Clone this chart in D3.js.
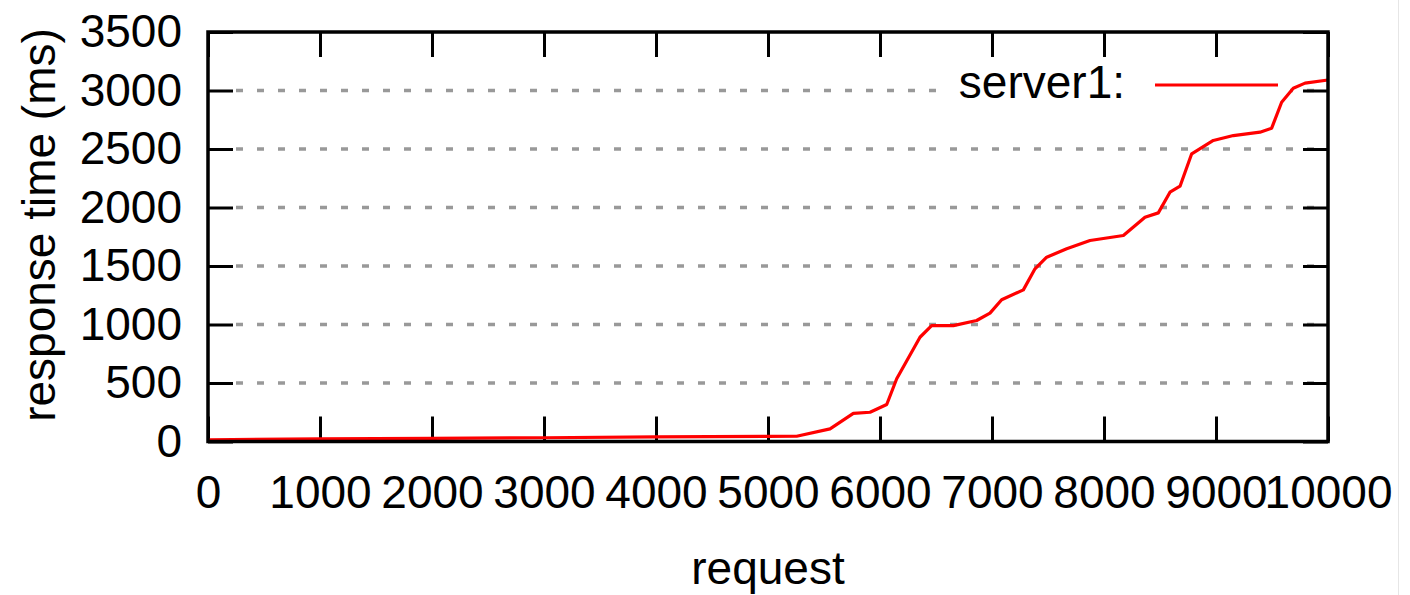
<!DOCTYPE html>
<html>
<head>
<meta charset="utf-8">
<script src="https://cdn.jsdelivr.net/npm/d3@7"></script>
<style>
  body { margin: 0; background: #fff; }
  svg text { font-family: "Liberation Sans", Arial, sans-serif; fill: #000; }
</style>
</head>
<body>
<div id="chart"></div>
<script>
const width = 1410;
const height = 595;
const margin = { top: 32, right: 82, bottom: 154, left: 208 };

// data
const requests = [0, 1000, 2000, 3000, 4000, 5000, 5256, 5554, 5762, 5911, 6060, 6149, 6357, 6461,
  6655, 6863, 6982, 7086, 7280, 7384, 7488, 7667, 7875, 8173, 8366, 8485, 8589, 8679, 8783,
  8976, 9155, 9393, 9497, 9586, 9690, 9795, 10000];
const responseTimes = [15, 22, 27, 32, 40, 44, 45, 108, 240, 250, 316, 536, 891, 990,
  990, 1034, 1097, 1211, 1296, 1476, 1575, 1647, 1718, 1761, 1917, 1954, 2131, 2182, 2459,
  2573, 2615, 2644, 2678, 2900, 3020, 3063, 3090];
const xTicks = [0, 1000, 2000, 3000, 4000, 5000, 6000, 7000, 8000, 9000, 10000];
const yTicks = [0, 500, 1000, 1500, 2000, 2500, 3000, 3500];
const seriesName = "server1:";

const data = requests.map((r, i) => ({ req: r, ms: responseTimes[i] }));

const svg = d3.select('#chart')
  .append('svg')
  .attr('width', width)
  .attr('height', height);

// faint screenshot edge on the right
svg.append("line")
  .attr("x1", 1398.5).attr("x2", 1398.5)
  .attr("y1", 0).attr("y2", height)
  .style("stroke", "#e6e6e6")
  .style("stroke-width", 1);

const x = d3.scaleLinear()
  .domain([0, 10000])
  .range([margin.left, width - margin.right]);

const y = d3.scaleLinear()
  .domain([0, 3500])
  .range([height - margin.bottom + 0.5, margin.top]);

const fontSize = 46;
const tickLen = 25;
const plain = d3.format("d");

// horizontal dashed grid
svg.append("g")
  .selectAll("line")
  .data(yTicks.filter(t => t > 0 && t < 3500))
  .join("line")
  .attr("x1", x(0) + 28)
  .attr("x2", x(10000))
  .attr("y1", d => y(d))
  .attr("y2", d => y(d))
  .style("stroke", "#999")
  .style("stroke-width", 3.5)
  .style("stroke-dasharray", "7,14");

// axes with inward ticks
const xAxisBottom = svg.append("g")
  .attr("transform", `translate(0, ${y(0)})`)
  .call(d3.axisBottom(x).tickValues(xTicks).tickFormat(plain)
    .tickSize(-tickLen).tickSizeOuter(0).tickPadding(34));

const xAxisTop = svg.append("g")
  .attr("transform", `translate(0, ${y(3500)})`)
  .call(d3.axisTop(x).tickValues(xTicks).tickSize(-tickLen).tickSizeOuter(0).tickFormat(""));

const yAxisLeft = svg.append("g")
  .attr("transform", `translate(${x(0)}, 0)`)
  .call(d3.axisLeft(y).tickValues(yTicks).tickFormat(plain)
    .tickSize(-tickLen).tickSizeOuter(0).tickPadding(26));

const yAxisRight = svg.append("g")
  .attr("transform", `translate(${x(10000)}, 0)`)
  .call(d3.axisRight(y).tickValues(yTicks).tickSize(-tickLen).tickSizeOuter(0).tickFormat(""));

[xAxisBottom, xAxisTop, yAxisLeft, yAxisRight].forEach(g => {
  g.select(".domain").remove();
  g.selectAll(".tick line").style("stroke", "#000").style("stroke-width", 3);
  g.selectAll(".tick text")
    .style("font-size", fontSize + "px")
    .style("font-family", '"Liberation Sans", Arial, sans-serif')
    .attr("fill", "#000");
});

// legend, opaque box hides the grid behind it
svg.append("rect")
  .attr("x", 940)
  .attr("y", 64)
  .attr("width", 350)
  .attr("height", 44)
  .style("fill", "#fff");

svg.append("text")
  .attr("x", 1125)
  .attr("y", 98)
  .style("font-size", fontSize + "px")
  .style("text-anchor", "end")
  .text(seriesName);

svg.append("line")
  .attr("x1", 1155)
  .attr("x2", 1278)
  .attr("y1", 85)
  .attr("y2", 85)
  .style("stroke", "#ff0000")
  .style("stroke-width", 3);

// the series
const line = d3.line()
  .x(d => x(d.req))
  .y(d => y(d.ms));

svg.append("path")
  .datum(data)
  .attr("d", line)
  .style("fill", "none")
  .style("stroke", "#ff0000")
  .style("stroke-width", 3.2)
  .style("stroke-linejoin", "round");

// frame
svg.append("rect")
  .attr("x", x(0))
  .attr("y", y(3500))
  .attr("width", x(10000) - x(0))
  .attr("height", y(0) - y(3500))
  .style("fill", "none")
  .style("stroke", "#000")
  .style("stroke-width", 3.5);

// axis titles
svg.append("text")
  .attr("x", (x(0) + x(10000)) / 2)
  .attr("y", 584)
  .style("font-size", fontSize + "px")
  .style("text-anchor", "middle")
  .text("request");

svg.append("text")
  .attr("transform", "translate(55, 225) rotate(-90)")
  .style("font-size", fontSize + "px")
  .style("text-anchor", "middle")
  .text("response time (ms)");
</script>
</body>
</html>
